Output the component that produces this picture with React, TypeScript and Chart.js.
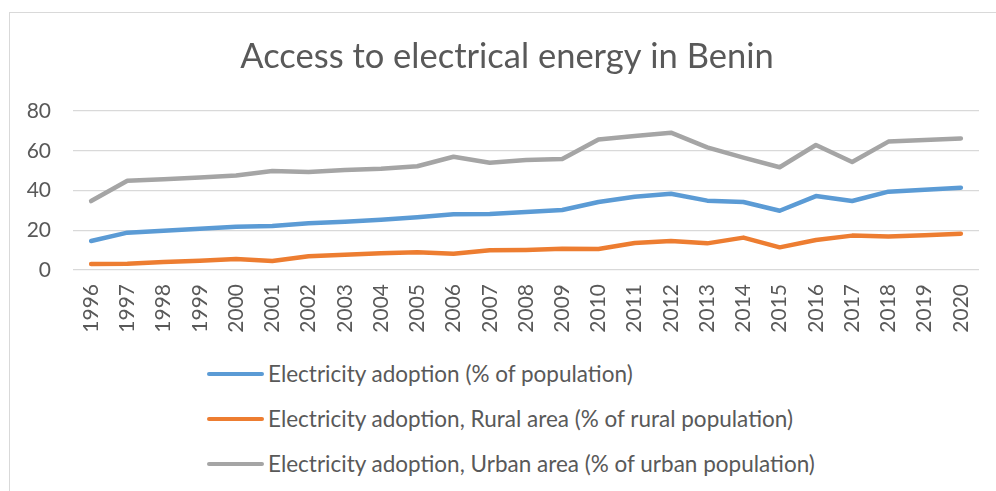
import React, { useEffect, useRef } from "react";
import { Chart, registerables } from "chart.js";

Chart.register(...registerables);

const TITLE = "Access to electrical energy in Benin";

const years = [
  "1996", "1997", "1998", "1999", "2000", "2001", "2002", "2003", "2004",
  "2005", "2006", "2007", "2008", "2009", "2010", "2011", "2012", "2013",
  "2014", "2015", "2016", "2017", "2018", "2019", "2020",
];

const totalAccess = [
  14.6, 18.8, 19.8, 20.8, 21.8, 22.1, 23.5, 24.3, 25.3, 26.5, 28.0, 28.2, 29.2,
  30.2, 34.2, 36.9, 38.4, 34.9, 34.2, 29.8, 37.2, 34.7, 39.4, 40.4, 41.4,
];

const ruralAccess = [
  3.0, 3.2, 4.0, 4.7, 5.5, 4.5, 6.9, 7.7, 8.4, 8.9, 8.2, 9.9, 10.1,
  10.7, 10.6, 13.6, 14.6, 13.4, 16.3, 11.4, 15.1, 17.3, 16.8, 17.5, 18.3,
];

const urbanAccess = [
  34.7, 44.9, 45.6, 46.6, 47.6, 49.8, 49.3, 50.3, 51.0, 52.2, 57.0, 54.0, 55.3,
  55.8, 65.7, 67.4, 69.1, 61.7, 56.5, 51.7, 62.9, 54.3, 64.6, 65.4, 66.2,
];

const seriesLabels = [
  "Electricity adoption (% of population)",
  "Electricity adoption, Rural area (% of rural population)",
  "Electricity adoption, Urban area (% of urban population)",
];

const seriesColors = ["#5B9BD5", "#ED7D31", "#A5A5A5"];

const yTicks = [0, 20, 40, 60, 80];

const FONT = "Lato, 'Open Sans', sans-serif";
const TEXT = "#595959";

const centeredTitle = {
  id: "centeredTitle",
  afterDraw(chart: any) {
    const ctx = chart.ctx;
    ctx.save();
    ctx.font = `normal 34.5px ${FONT}`;
    ctx.fillStyle = TEXT;
    ctx.textAlign = "center";
    ctx.textBaseline = "middle";
    ctx.fillText(TITLE, chart.width / 2, 43.7);
    ctx.restore();
  },
};

export default function App() {
  const canvasRef = useRef<HTMLCanvasElement | null>(null);

  useEffect(() => {
    const prevOverflow = document.documentElement.style.overflow;
    document.documentElement.style.overflow = "hidden";
    const canvas = canvasRef.current;
    if (!canvas) return;
    const values = [totalAccess, ruralAccess, urbanAccess];
    const chart = new Chart(canvas, {
      type: "line",
      data: {
        labels: years,
        datasets: values.map((v, i) => ({
          label: seriesLabels[i],
          data: v,
          borderColor: seriesColors[i],
          backgroundColor: seriesColors[i],
          borderWidth: 4.5,
          pointRadius: 0,
          pointHoverRadius: 0,
          tension: 0,
          borderCapStyle: "round" as const,
          borderJoinStyle: "round" as const,
        })),
      },
      plugins: [centeredTitle],
      options: {
        responsive: true,
        maintainAspectRatio: false,
        animation: false,
        events: [],
        layout: { padding: { left: 0, right: 25, top: 98, bottom: 0 } },
        plugins: {
          legend: { display: false },
          tooltip: { enabled: false },
          title: { display: false },
        },
        scales: {
          x: {
            type: "category",
            offset: true,
            grid: { display: false, drawTicks: false },
            border: { display: false },
            ticks: {
              autoSkip: false,
              minRotation: 90,
              maxRotation: 90,
              padding: 14,
              color: TEXT,
              font: { family: FONT, size: 21 },
            },
            afterFit: (scale: any) => {
              scale.height = 83;
            },
          },
          y: {
            min: 0,
            max: 80,
            afterBuildTicks: (scale: any) => {
              scale.ticks = yTicks.map((v) => ({ value: v }));
            },
            grid: { color: "#D9D9D9", lineWidth: 1.3, drawTicks: false },
            border: { display: false },
            ticks: {
              padding: 22,
              color: TEXT,
              font: { family: FONT, size: 21 },
            },
            afterFit: (scale: any) => {
              scale.width = 63;
            },
          },
        },
      } as any,
    });
    return () => {
      chart.destroy();
      document.documentElement.style.overflow = prevOverflow;
    };
  }, []);

  return (
    <div
      style={{
        position: "fixed",
        left: 9,
        top: 12,
        width: 1010,
        height: 500,
        borderTop: "1.5px solid #D9D9D9",
        borderLeft: "1.5px solid #D9D9D9",
        background: "#fff",
        boxSizing: "border-box",
      }}
    >
      <div style={{ position: "absolute", left: 0, top: 0, width: 994, height: 340 }}>
        <canvas ref={canvasRef} />
      </div>
      {seriesLabels.map((label, i) => (
        <div
          key={label}
          style={{
            position: "absolute",
            left: 197,
            top: 348 + i * 45,
            height: 26,
            display: "flex",
            alignItems: "center",
            whiteSpace: "nowrap",
          }}
        >
          <span
            style={{
              display: "inline-block",
              width: 57,
              height: 4.5,
              borderRadius: 3,
              background: seriesColors[i],
            }}
          />
          <span
            style={{
              marginLeft: 4,
              fontFamily: FONT,
              fontSize: 22.5,
              color: TEXT,
              lineHeight: "26px",
            }}
          >
            {label}
          </span>
        </div>
      ))}
    </div>
  );
}
